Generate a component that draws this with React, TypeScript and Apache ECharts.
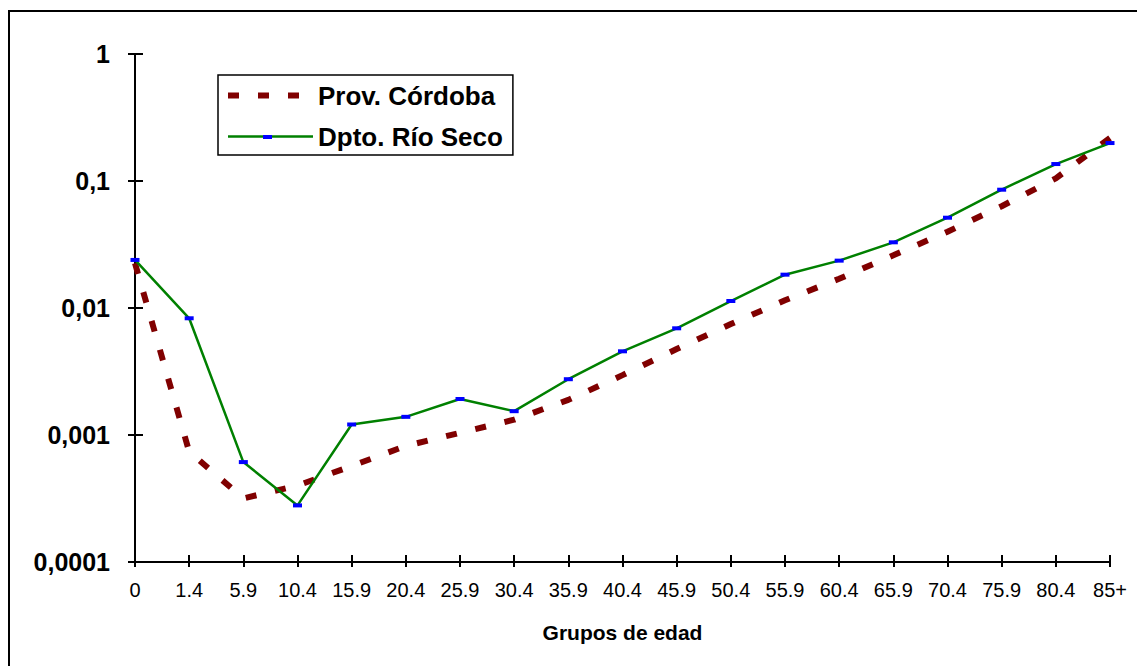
import React, { useEffect, useRef } from "react";
import * as echarts from "echarts";

const categories = ["0", "1.4", "5.9", "10.4", "15.9", "20.4", "25.9", "30.4", "35.9", "40.4", "45.9", "50.4", "55.9", "60.4", "65.9", "70.4", "75.9", "80.4", "85+"];
const provCordoba = [0.0225, 0.00074, 0.000317, 0.0004, 0.00057, 0.00082, 0.00104, 0.00132, 0.00189, 0.00296, 0.00475, 0.00748, 0.0115, 0.017, 0.026, 0.0399, 0.0633, 0.105, 0.218];
const dptoRioSeco = [0.0239, 0.0083, 0.000612, 0.000279, 0.00121, 0.00139, 0.00192, 0.00154, 0.00275, 0.00456, 0.00692, 0.01135, 0.0183, 0.0236, 0.0329, 0.0514, 0.0854, 0.136, 0.199];
const yTickLabels = ["0,0001", "0,001", "0,01", "0,1", "1"];
const seriesNames = ["Prov. Córdoba", "Dpto. Río Seco"];
const xAxisTitle = "Grupos de edad";

const FONT = "Arial, 'Liberation Sans', Helvetica, sans-serif";
const RED = "#800000";
const GREEN = "#008000";
const BLUE = "#0000ff";
const RED_DASH = [11, 19];

export default function App() {
  const ref = useRef<HTMLDivElement>(null);
  useEffect(() => {
    if (!ref.current) return;
    const chart = echarts.init(ref.current, undefined, { renderer: "svg" });
    const yLabel = (v: number) => {
      const e = Math.round(Math.log10(v));
      return yTickLabels[e + 4] ?? "";
    };
    chart.setOption({
      animation: false,
      backgroundColor: "#fff",
      grid: { left: 135, right: 27, top: 54, bottom: 104, containLabel: false },
      legend: {
        orient: "vertical",
        left: 218,
        top: 75,
        data: [
          { name: seriesNames[0], itemStyle: { opacity: 0 }, lineStyle: { color: RED, width: 6, type: RED_DASH, cap: "butt" } },
          { name: seriesNames[1], itemStyle: { opacity: 0 }, lineStyle: { color: GREEN, width: 2.5, type: "solid" } },
        ],
        borderColor: "#000",
        borderWidth: 1.5,
        padding: [7, 10, 5, 7],
        itemGap: 14,
        itemWidth: 85,
        itemHeight: 14,
        textStyle: { fontFamily: FONT, fontSize: 26, fontWeight: "bold", color: "#000", lineHeight: 27 },
      },
      xAxis: [
        {
          type: "category",
          data: categories,
          boundaryGap: false,
          name: xAxisTitle,
          nameLocation: "middle",
          nameGap: 60,
          nameTextStyle: { fontFamily: FONT, fontSize: 21, fontWeight: "bold", color: "#000" },
          axisLine: { show: true, lineStyle: { color: "#000", width: 2 } },
          axisTick: { show: true, inside: false, length: 5, alignWithLabel: true, lineStyle: { color: "#000", width: 2 } },
          axisLabel: { fontFamily: FONT, fontSize: 20, color: "#000", margin: 18, interval: 0 },
          splitLine: { show: false },
        },
        {
          type: "category",
          data: categories,
          boundaryGap: false,
          position: "bottom",
          axisLine: { show: false },
          axisTick: { show: true, inside: true, length: 7, alignWithLabel: true, lineStyle: { color: "#000", width: 2 } },
          axisLabel: { show: false },
          splitLine: { show: false },
        },
      ],
      yAxis: [
        {
          type: "log",
          logBase: 10,
          min: 0.0001,
          max: 1,
          splitNumber: 4,
          axisLine: { show: true, lineStyle: { color: "#000", width: 2 } },
          axisTick: { show: true, inside: false, length: 7, lineStyle: { color: "#000", width: 2 } },
          axisLabel: { fontFamily: FONT, fontSize: 25, fontWeight: "bold", color: "#000", margin: 25, formatter: yLabel },
          splitLine: { show: false },
          minorTick: { show: false },
        },
        {
          type: "log",
          logBase: 10,
          min: 0.0001,
          max: 1,
          splitNumber: 4,
          position: "left",
          axisLine: { show: false },
          axisTick: { show: true, inside: true, length: 8, lineStyle: { color: "#000", width: 2 } },
          axisLabel: { show: false },
          splitLine: { show: false },
        },
      ],
      series: [
        {
          name: seriesNames[0],
          type: "line",
          data: provCordoba,
          xAxisIndex: 0,
          yAxisIndex: 0,
          symbol: "none",
          showSymbol: false,
          lineStyle: { color: RED, width: 6, type: RED_DASH, cap: "butt" },
          itemStyle: { color: RED },
          z: 2,
        },
        {
          name: seriesNames[1],
          type: "line",
          data: dptoRioSeco,
          xAxisIndex: 0,
          yAxisIndex: 0,
          symbol: "rect",
          symbolSize: [9, 4],
          showSymbol: true,
          lineStyle: { color: GREEN, width: 2.5 },
          itemStyle: { color: BLUE, borderWidth: 0 },
          z: 3,
        },
      ],
      graphic: [
        {
          type: "rect",
          shape: { x: 9, y: 11, width: 1200, height: 700 },
          style: { fill: "none", stroke: "#000", lineWidth: 2 },
          silent: true,
          z: 0,
        },
        {
          type: "rect",
          shape: { x: 263, y: 135, width: 9, height: 4 },
          style: { fill: BLUE },
          silent: true,
          z: 100,
        },
      ],
    });
    return () => chart.dispose();
  }, []);
  return <div ref={ref} style={{ position: "absolute", left: 0, top: 0, width: 1137, height: 666 }} />;
}
